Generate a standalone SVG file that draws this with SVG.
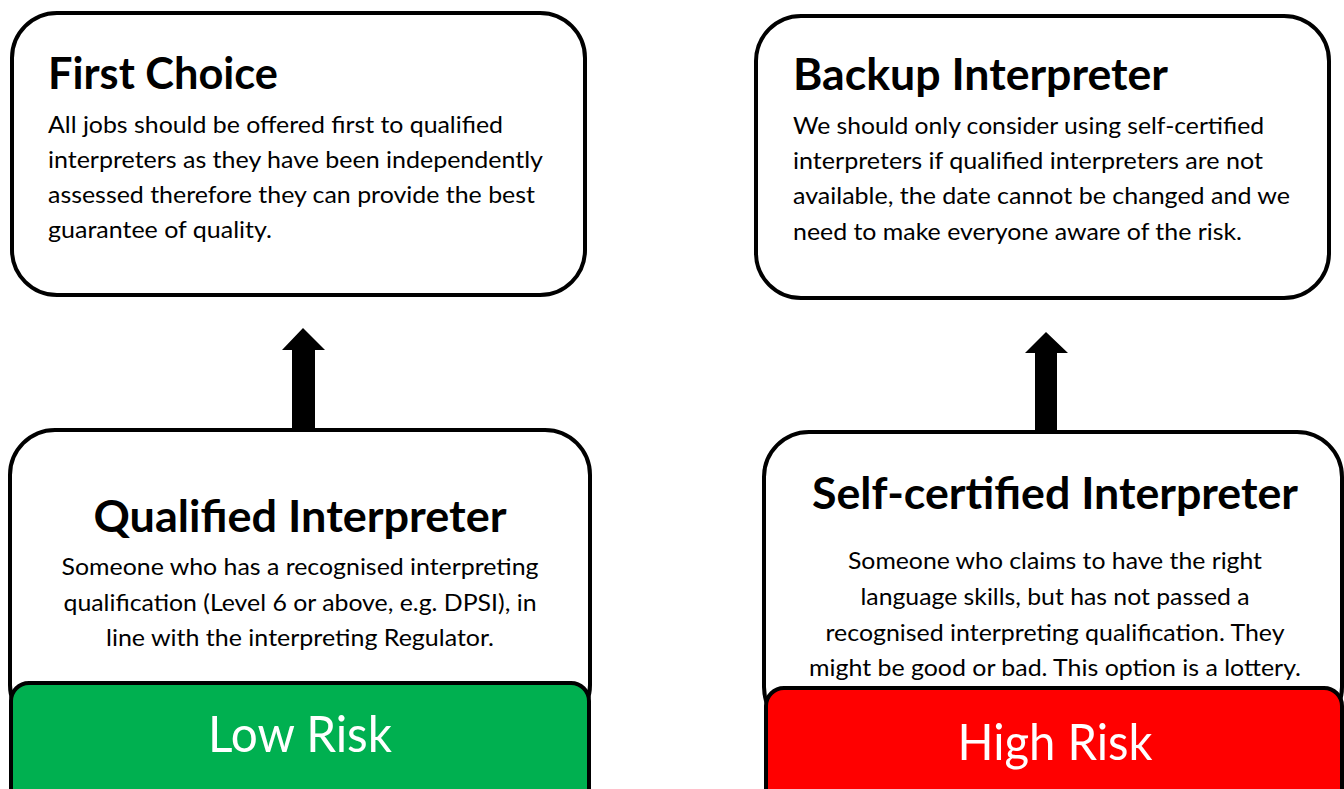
<svg xmlns="http://www.w3.org/2000/svg" width="1344" height="789" viewBox="0 0 1344 789">
<style>
.box{fill:#fff;stroke:#000;stroke-width:4}
.t{font-family:Lato,"Open Sans","Liberation Sans",sans-serif;font-weight:bold;font-size:43px;fill:#000}
.b{font-family:Lato,"Open Sans","Liberation Sans",sans-serif;font-size:23px;fill:#000}
.r{font-family:Lato,"Open Sans","Liberation Sans",sans-serif;font-size:50px;fill:#fff}
.c{text-anchor:middle}
.arrow{fill:#000}
</style>
<rect width="1344" height="789" fill="#fff"/>
<g id="connectors">
<polygon class="arrow" points="303,328 325,350 315,350 315,434 292,434 292,350 282,350"/>
<polygon class="arrow" points="1046,332 1068,353 1057,353 1057,436 1035,436 1035,353 1025,353"/>
</g>
<g id="first-choice">
<rect class="box" x="12" y="13" width="573" height="282" rx="45"/>
<text class="t" x="48" y="89" textLength="230" lengthAdjust="spacingAndGlyphs">First Choice</text>
<text class="b" x="48" y="133" textLength="455" lengthAdjust="spacingAndGlyphs">All jobs should be offered first to qualified</text>
<text class="b" x="48" y="168" textLength="495" lengthAdjust="spacingAndGlyphs">interpreters as they have been independently</text>
<text class="b" x="48" y="203" textLength="487" lengthAdjust="spacingAndGlyphs">assessed therefore they can provide the best</text>
<text class="b" x="48" y="238" textLength="224" lengthAdjust="spacingAndGlyphs">guarantee of quality.</text>
</g>
<g id="backup-interpreter">
<rect class="box" x="756" y="16" width="573" height="282" rx="45"/>
<text class="t" x="793" y="90" textLength="375" lengthAdjust="spacingAndGlyphs">Backup Interpreter</text>
<text class="b" x="793" y="134" textLength="471" lengthAdjust="spacingAndGlyphs">We should only consider using self-certified</text>
<text class="b" x="793" y="169" textLength="470" lengthAdjust="spacingAndGlyphs">interpreters if qualified interpreters are not</text>
<text class="b" x="793" y="204" textLength="497" lengthAdjust="spacingAndGlyphs">available, the date cannot be changed and we</text>
<text class="b" x="793" y="240" textLength="449" lengthAdjust="spacingAndGlyphs">need to make everyone aware of the risk.</text>
</g>
<g id="qualified-interpreter">
<rect class="box" x="10" y="430" width="580" height="300" rx="45"/>
<text class="t c" x="300" y="532" textLength="413" lengthAdjust="spacingAndGlyphs">Qualified Interpreter</text>
<text class="b c" x="300" y="575" textLength="477" lengthAdjust="spacingAndGlyphs">Someone who has a recognised interpreting</text>
<text class="b c" x="300" y="611" textLength="473" lengthAdjust="spacingAndGlyphs">qualification (Level 6 or above, e.g. DPSI), in</text>
<text class="b c" x="300" y="646" textLength="388" lengthAdjust="spacingAndGlyphs">line with the interpreting Regulator.</text>
</g>
<g id="low-risk">
<rect x="11" y="683" width="578" height="130" rx="18" fill="#00B050" stroke="#000" stroke-width="4"/>
<text class="r c" x="300" y="752" textLength="184" lengthAdjust="spacingAndGlyphs">Low Risk</text>
</g>
<g id="self-certified-interpreter">
<rect class="box" x="764" y="432" width="578" height="300" rx="45"/>
<text class="t c" x="1055" y="509" textLength="486" lengthAdjust="spacingAndGlyphs">Self-certified Interpreter</text>
<text class="b c" x="1055" y="569" textLength="414" lengthAdjust="spacingAndGlyphs">Someone who claims to have the right</text>
<text class="b c" x="1055" y="605" textLength="389" lengthAdjust="spacingAndGlyphs">language skills, but has not passed a</text>
<text class="b c" x="1055" y="641" textLength="459" lengthAdjust="spacingAndGlyphs">recognised interpreting qualification. They</text>
<text class="b c" x="1055" y="676" textLength="492" lengthAdjust="spacingAndGlyphs">might be good or bad. This option is a lottery.</text>
</g>
<g id="high-risk">
<rect x="766" y="688" width="576" height="130" rx="18" fill="#FF0000" stroke="#000" stroke-width="4"/>
<text class="r c" x="1055" y="760" textLength="195" lengthAdjust="spacingAndGlyphs">High Risk</text>
</g>
</svg>
